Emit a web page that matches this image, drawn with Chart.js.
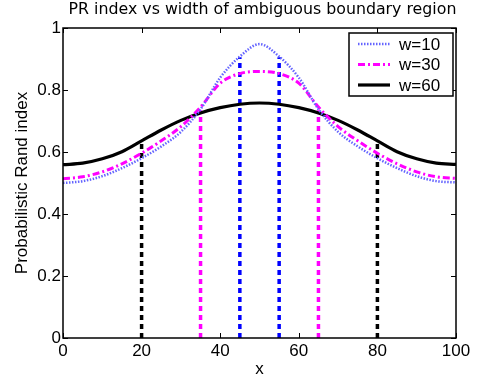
<!DOCTYPE html>
<html>
<head>
<meta charset="utf-8">
<script src="https://cdn.jsdelivr.net/npm/chart.js@4/dist/chart.umd.min.js"></script>
<style>
  html, body { margin: 0; padding: 0; background: #fff; }
</style>
</head>
<body>
<canvas id="prChart" width="478" height="381"></canvas>
<script>
// sample positions along x
const xs = [0, 5, 10, 15, 20, 25, 30, 35, 40, 45, 50, 55, 60, 65, 70, 75, 80, 85, 90, 95, 100];

// PR index curves
const w10 = [0.500, 0.506, 0.522, 0.548, 0.580, 0.618, 0.665, 0.738, 0.840, 0.908, 0.948,
             0.908, 0.840, 0.738, 0.665, 0.618, 0.580, 0.548, 0.522, 0.506, 0.502];
const w30 = [0.514, 0.520, 0.536, 0.562, 0.596, 0.636, 0.682, 0.745, 0.822, 0.853, 0.860,
             0.853, 0.822, 0.745, 0.682, 0.636, 0.596, 0.562, 0.536, 0.520, 0.515];
const w60 = [0.559, 0.564, 0.578, 0.601, 0.636, 0.671, 0.702, 0.726, 0.743, 0.754, 0.758,
             0.754, 0.743, 0.726, 0.702, 0.671, 0.636, 0.601, 0.578, 0.564, 0.560];

// boundary markers (vertical dotted lines): x position and height
const markX60 = [20, 80];
const markTop60 = [0.635, 0.632];
const markX30 = [35, 65];
const markTop30 = [0.735, 0.735];
const markX10 = [45, 55];
const markTop10 = [0.906, 0.906];

// axis ticks
const xTicks = [0, 20, 40, 60, 80, 100];
const yTicks = [0, 0.2, 0.4, 0.6, 0.8, 1];
const yTickLabels = ['0', '0.2', '0.4', '0.6', '0.8', '1'];

const chartTitle = 'PR index vs width of ambiguous boundary region';

const FONT = "'Liberation Sans', Arial, Helvetica, sans-serif";
const TITLE_FONT = "'DejaVu Sans', 'Liberation Sans', sans-serif";

function pts(ys) {
    return xs.map((x, i) => ({ x: x, y: ys[i] }));
}

function markers(xList, tops, color) {
    return xList.map((x, i) => ({
        data: [{ x: x, y: 0 }, { x: x, y: tops[i] }],
        borderColor: color,
        borderWidth: 3.5,
        borderDash: [5, 4],
        pointRadius: 0,
        fill: false
    }));
}

// MATLAB-like box: border all round, inward ticks, legend inside top right,
// title centred over the axes
const matlabBox = {
    id: 'matlabBox',
    afterDatasetsDraw(chart) {
        const ctx = chart.ctx;
        const a = chart.chartArea;
        const sx = chart.scales.x, sy = chart.scales.y;
        ctx.save();
        ctx.strokeStyle = '#000';
        ctx.lineWidth = 1;
        ctx.setLineDash([]);
        ctx.beginPath();
        sx.ticks.forEach(t => {
            const px = Math.round(sx.getPixelForValue(t.value)) + 0.5;
            ctx.moveTo(px, a.bottom); ctx.lineTo(px, a.bottom - 5);
            ctx.moveTo(px, a.top); ctx.lineTo(px, a.top + 5);
        });
        sy.ticks.forEach(t => {
            const py = Math.round(sy.getPixelForValue(t.value)) + 0.5;
            ctx.moveTo(a.left, py); ctx.lineTo(a.left + 5, py);
            ctx.moveTo(a.right, py); ctx.lineTo(a.right - 5, py);
        });
        ctx.stroke();
        ctx.lineWidth = 1.5;
        ctx.strokeRect(a.left, a.top, a.width, a.height);

        // title
        ctx.fillStyle = '#000';
        ctx.font = '15.8px ' + TITLE_FONT;
        ctx.textAlign = 'center';
        ctx.textBaseline = 'middle';
        ctx.fillText(chartTitle, (a.left + a.right) / 2 + 3, a.top - 18);

        // legend
        const items = chart.data.datasets.filter(d => d.label);
        const bw = 104, bh = 63;
        const bx = a.right - 3 - bw, by = a.top + 5;
        ctx.fillStyle = '#fff';
        ctx.fillRect(bx, by, bw, bh);
        ctx.lineWidth = 1.5;
        ctx.strokeStyle = '#000';
        ctx.strokeRect(bx, by, bw, bh);
        ctx.font = '17px ' + FONT;
        ctx.textAlign = 'left';
        items.forEach((d, i) => {
            const y = by + 11 + i * 20.5;
            ctx.beginPath();
            ctx.strokeStyle = d.borderColor;
            ctx.lineWidth = d.borderWidth;
            ctx.setLineDash(d.borderDash || []);
            ctx.moveTo(bx + 9, y);
            ctx.lineTo(bx + 41, y);
            ctx.stroke();
            ctx.setLineDash([]);
            ctx.fillStyle = '#000';
            ctx.fillText(d.label, bx + 50, y + 1);
        });
        ctx.restore();
    }
};

const ctx = document.getElementById('prChart').getContext('2d');
new Chart(ctx, {
    type: 'line',
    data: {
        datasets: [
            {
                label: 'w=10',
                data: pts(w10),
                borderColor: '#6464ff',
                borderWidth: 2.5,
                borderDash: [1.5, 1.5],
                pointRadius: 0,
                fill: false,
                cubicInterpolationMode: 'monotone'
            },
            {
                label: 'w=30',
                data: pts(w30),
                borderColor: '#ff00ff',
                borderWidth: 3,
                borderDash: [7, 3, 2, 3],
                pointRadius: 0,
                fill: false,
                cubicInterpolationMode: 'monotone'
            },
            {
                label: 'w=60',
                data: pts(w60),
                borderColor: '#000000',
                borderWidth: 3.2,
                pointRadius: 0,
                fill: false,
                cubicInterpolationMode: 'monotone'
            },
            ...markers(markX60, markTop60, '#000000'),
            ...markers(markX30, markTop30, '#ff00ff'),
            ...markers(markX10, markTop10, '#0000ff')
        ]
    },
    options: {
        responsive: false,
        animation: false,
        layout: { padding: { left: 0, right: 22, top: 28, bottom: 0 } },
        plugins: {
            legend: { display: false },
            tooltip: { enabled: false },
            title: { display: false }
        },
        scales: {
            x: {
                type: 'linear',
                min: 0,
                max: 100,
                afterBuildTicks: s => { s.ticks = xTicks.map(v => ({ value: v })); },
                afterFit: s => { s.height = 43; },
                ticks: {
                    color: '#000',
                    font: { family: FONT, size: 17 },
                    padding: 3,
                    maxRotation: 0,
                    callback: v => String(v)
                },
                grid: { display: false, drawTicks: false },
                border: { display: false },
                title: {
                    display: true,
                    text: 'x',
                    color: '#000',
                    font: { family: FONT, size: 17 },
                    padding: { top: 0, bottom: 1 }
                }
            },
            y: {
                min: 0,
                max: 1,
                afterBuildTicks: s => { s.ticks = yTicks.map(v => ({ value: v })); },
                afterFit: s => { s.width = 63; },
                ticks: {
                    color: '#000',
                    font: { family: FONT, size: 17 },
                    padding: 2,
                    callback: v => yTickLabels[yTicks.indexOf(Math.round(v * 10) / 10)]
                },
                grid: { display: false, drawTicks: false },
                border: { display: false },
                title: {
                    display: true,
                    text: 'Probabilistic Rand index',
                    color: '#000',
                    font: { family: FONT, size: 17 },
                    padding: { top: 12, bottom: 0 }
                }
            }
        }
    },
    plugins: [matlabBox]
});
</script>
</body>
</html>
